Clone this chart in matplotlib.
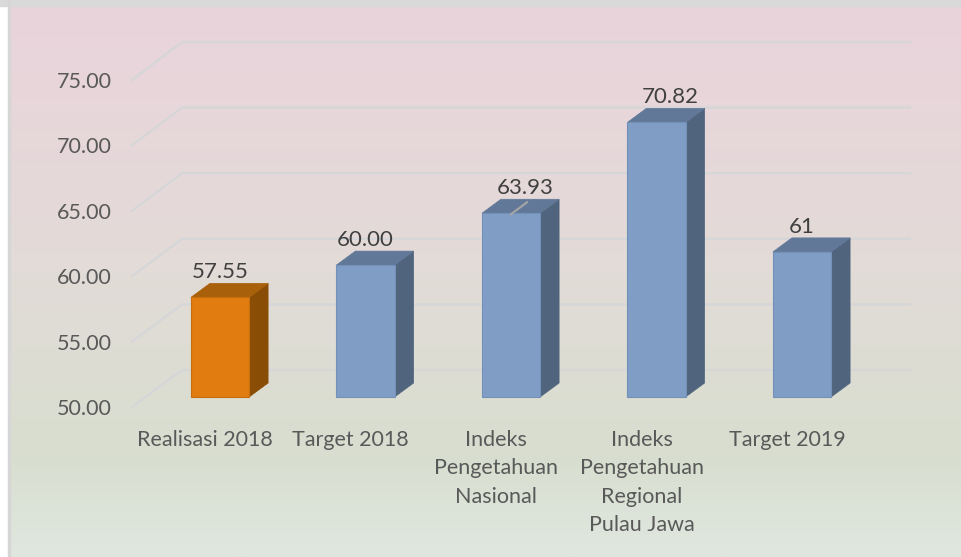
import numpy as np
import matplotlib
matplotlib.use('Agg')
import matplotlib.pyplot as plt
from matplotlib.patches import Polygon, Rectangle

# data
categories = ['Realisasi 2018', 'Target 2018', 'Indeks\nPengetahuan\nNasional',
              'Indeks\nPengetahuan\nRegional\nPulau Jawa', 'Target 2019']
values = [57.55, 60.00, 63.93, 70.82, 61]
value_labels = ['57.55', '60.00', '63.93', '70.82', '61']
y_ticks = [50, 55, 60, 65, 70, 75]
y_tick_labels = ['50.00', '55.00', '60.00', '65.00', '70.00', '75.00']

plt.rcParams['font.family'] = ['Lato', 'DejaVu Sans']

W, H = 962, 557
fig = plt.figure(figsize=(W / 100, H / 100), dpi=100)
fig.patch.set_facecolor('white')

# gradient background
bg = fig.add_axes([10 / W, 0, 1 - 10 / W, (H - 6) / H])
bg.set_axis_off()
stops = np.array([
    [0.00, 234, 211, 220],
    [0.45, 227, 219, 216],
    [0.82, 216, 222, 207],
    [1.00, 224, 231, 223],
])
t = np.linspace(0, 1, 300)
grad = np.stack([np.interp(t, stops[:, 0], stops[:, i]) for i in (1, 2, 3)], axis=1) / 255
bg.imshow(grad[:, None, :], aspect='auto', extent=[0, 1, 0, 1])
fig.patches.append(Rectangle((0, (H - 6) / H), 1, 6 / H, transform=fig.transFigure,
                             color='#D9D9D9', zorder=0))
fig.patches.append(Rectangle((8 / W, 0), 2 / W, 1, transform=fig.transFigure,
                             color='#D6D6D6', zorder=0))

# main axes: whole figure, data coords mapped from pixel anchors
px_cat = 145.5   # pixels per category
px_val = 13.19   # pixels per value unit
x0_px, base_px = 220, 397
ax = fig.add_axes([0, 0, 1, 1])
ax.set_xlim(-x0_px / px_cat, (W - x0_px) / px_cat)
ax.set_ylim(50 - (H - base_px) / px_val, 50 + base_px / px_val)
ax.set_axis_off()
ax.patch.set_alpha(0)


# 3d perspective: front (axis label) plane and back wall, relative to the bar plane
def front_y(v):
    return 50 + ((v - 50) * 13.08 - 10) / px_val


def back_y(v):
    return 50 + ((v - 50) * 13.12 + 27) / px_val


bar_w = 0.40
ddx, ddy = 19 / px_cat, 14 / px_val
x_front, x_back, x_end = -0.605, -0.261, 4.742
grid_c = '#D5D6D8'

for v in y_ticks:
    ax.plot([x_front, x_back, x_end], [front_y(v), back_y(v), back_y(v)],
            color=grid_c, lw=1.6, zorder=1, solid_joinstyle='miter')
for v, lab in zip(y_ticks, y_tick_labels):
    ax.text(x_front - 0.14, front_y(v), lab, ha='right', va='center_baseline',
            fontsize=15.5, color='#595959')

x = np.arange(len(values))
front_c = ['#E07C10'] + ['#7F9DC5'] * 4
top_c = ['#A9600A'] + ['#627898'] * 4
side_c = ['#8A4D05'] + ['#50657D'] * 4
edge_c = ['#C86E0C'] + ['#7290B8'] * 4

ax.bar(x, np.array(values) - 50, bottom=50, width=bar_w, color=front_c,
       edgecolor=edge_c, linewidth=0.8, zorder=3)
for xi, v, tc, sc in zip(x, values, top_c, side_c):
    l, r = xi - bar_w / 2, xi + bar_w / 2
    ax.add_patch(Polygon([(r, 50), (r + ddx, 50 + ddy), (r + ddx, v + ddy), (r, v)],
                         closed=True, facecolor=sc, edgecolor=sc, lw=0.5, zorder=2))
    ax.add_patch(Polygon([(l, v), (r, v), (r + ddx, v + ddy), (l + ddx, v + ddy)],
                         closed=True, facecolor=tc, edgecolor=tc, lw=0.5, zorder=2))

# value labels
label_dx = [0, 0, 14, 14, 0]
for xi, v, lab, dx in zip(x, values, value_labels, label_dx):
    ax.text(xi + dx / px_cat, v + ddy + 5 / px_val, lab, ha='center', va='baseline',
            fontsize=16, color='#404040', zorder=5)
# leader line on the third bar
ax.plot([2, 2 + 16 / px_cat], [values[2] - 1 / px_val, values[2] + 11 / px_val],
        color='#A6A6A6', lw=1.5, zorder=4)

# category labels (front plane, shifted left/down from the bars)
for xi, cat in zip(x, categories):
    ax.text(xi - 15 / px_cat, 50 - 33 / px_val, cat, ha='center', va='top',
            fontsize=15.5, color='#595959', linespacing=1.52, multialignment='center')

fig.savefig('out.png', dpi=100)
